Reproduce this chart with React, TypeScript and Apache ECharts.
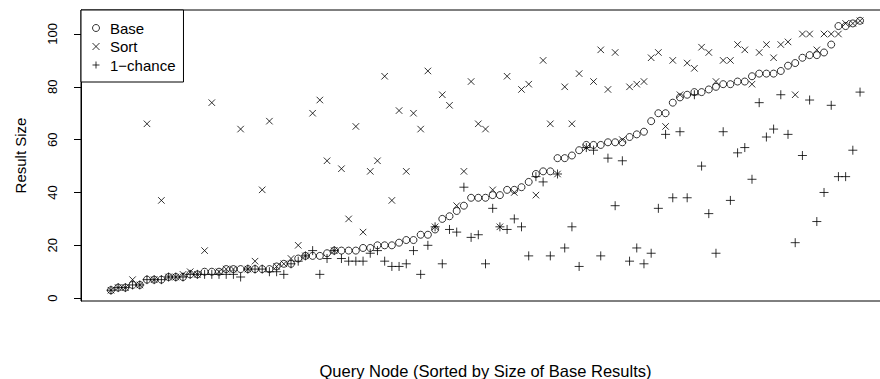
import React, { useEffect, useRef } from "react";
import * as echarts from "echarts";

const baseValues = [
  3, 4, 4, 5, 5, 7, 7, 7, 8, 8, 8, 9, 9, 10, 10, 10, 11, 11, 11, 11,
  11, 11, 11, 12, 13, 13, 15, 16, 16, 16, 17, 18, 18, 18, 18, 19, 19, 20, 20, 20,
  21, 22, 22, 24, 24, 26, 30, 31, 33, 35, 38, 38, 38, 39, 39, 41, 41, 42, 44, 47,
  48, 48, 53, 53, 54, 56, 58, 58, 58, 59, 59, 59, 61, 62, 63, 67, 70, 70, 74, 76,
  77, 78, 78, 79, 80, 81, 81, 82, 82, 84, 85, 85, 85, 86, 88, 89, 91, 92, 92, 93,
  96, 103, 103, 104, 105,
];

const sortValues = [
  3, 4, 4, 7, 5, 66, 7, 37, 8, 8, 9, 10, 9, 18, 74, 10, 11, 11, 64, 11,
  14, 41, 67, 12, 13, 15, 20, 16, 70, 75, 52, 18, 49, 30, 65, 25, 48, 52, 84, 37,
  71, 48, 70, 64, 86, 27, 77, 73, 35, 48, 82, 66, 64, 41, 27, 84, 40, 79, 81, 39,
  90, 66, 47, 80, 66, 85, 57, 82, 94, 79, 93, 60, 80, 81, 82, 91, 93, 65, 90, 77,
  89, 87, 95, 93, 82, 90, 90, 96, 94, 81, 93, 96, 91, 96, 97, 77, 100, 100, 94, 100,
  100, 100, 104, 104, 105,
];

const chanceValues = [
  3, 4, 4, 5, 5, 7, 7, 7, 8, 8, 8, 9, 9, 9, 9, 9, 9, 9, 8, 11,
  11, 11, 10, 10, 9, 13, 14, 16, 18, 9, 15, 18, 15, 14, 14, 14, 17, 18, 14, 12,
  12, 13, 18, 9, 20, 27, 13, 26, 25, 42, 23, 24, 13, 34, 27, 26, 30, 27, 16, 46,
  44, 16, 47, 19, 27, 12, 57, 56, 16, 53, 35, 52, 14, 19, 13, 17, 34, 62, 38, 63,
  38, 77, 50, 32, 17, 63, 37, 55, 57, 45, 74, 61, 64, 77, 62, 21, 54, 75, 29, 40,
  73, 46, 46, 56, 78,
];

const yTicks = [0, 20, 40, 60, 80, 100];
const seriesNames = ["Base", "Sort", "1\u2212chance"];

const FONT = "'Liberation Sans', Arial, Helvetica, sans-serif";
const CROSS = "path://M0,0L10,10M0,10L10,0";
const PLUS = "path://M5,0L5,10M0,5L10,5";

function toPoints(vals: number[]) {
  return vals.map((v, i) => [i + 1, v]);
}

export default function App() {
  const ref = useRef<HTMLDivElement>(null);
  useEffect(() => {
    document.body.style.margin = "0";
    if (!ref.current) return;
    const chart = echarts.init(ref.current, null, { renderer: "svg" });
    const n = baseValues.length;
    const xPad = 0.04 * (n - 1);
    const yMinData = Math.min(...baseValues, ...sortValues, ...chanceValues);
    const yMaxData = Math.max(...baseValues, ...sortValues, ...chanceValues);
    const yPad = 0.04 * (yMaxData - yMinData);
    const itemStyle = {
      color: "rgba(0,0,0,0)",
      borderColor: "#000",
      borderWidth: 1,
    };
    chart.setOption({
      animation: false,
      backgroundColor: "#fff",
      textStyle: { fontFamily: FONT, color: "#000" },
      grid: {
        left: 81,
        top: 10,
        right: -10,
        bottom: 78,
        outerBoundsMode: "none",
        containLabel: false,
        show: true,
        borderColor: "#000",
        borderWidth: 1,
        backgroundColor: "transparent",
      },
      legend: {
        orient: "vertical",
        left: 81,
        top: 10,
        padding: [10, 8, 9, 11],
        itemGap: 2.5,
        itemWidth: 18,
        itemHeight: 7,
        borderColor: "#000",
        borderWidth: 1,
        borderRadius: 0,
        backgroundColor: "#fff",
        selectedMode: false,
        textStyle: {
          fontFamily: FONT,
          fontSize: 15,
          color: "#000",
          lineHeight: 16,
          padding: [0, 0, 0, 0],
        },
        data: [
          { name: seriesNames[0], icon: "circle", itemStyle },
          { name: seriesNames[1], icon: CROSS, itemStyle },
          { name: seriesNames[2], icon: PLUS, itemStyle },
        ],
      },
      xAxis: {
        type: "value",
        min: 1 - xPad,
        max: n + xPad,
        name: "Query Node (Sorted by Size of Base Results)",
        nameLocation: "middle",
        nameGap: 61,
        nameTextStyle: { fontFamily: FONT, fontSize: 16.5, color: "#000" },
        axisLine: { show: false, onZero: false },
        axisTick: { show: false },
        axisLabel: { show: false },
        splitLine: { show: false },
      },
      yAxis: {
        type: "value",
        min: yMinData - yPad,
        max: yMaxData + yPad,
        name: "Result Size",
        nameLocation: "middle",
        nameRotate: 90,
        nameGap: 53,
        nameTextStyle: { fontFamily: FONT, fontSize: 15, color: "#000" },
        axisLine: { show: true, onZero: false, lineStyle: { color: "#000", width: 1 } },
        axisTick: {
          show: true,
          length: 7,
          inside: false,
          customValues: yTicks,
          lineStyle: { color: "#000", width: 1 },
        },
        axisLabel: {
          show: true,
          rotate: 90,
          margin: 22,
          fontSize: 13,
          fontFamily: FONT,
          color: "#000",
          customValues: yTicks,
        },
        splitLine: { show: false },
      },
      series: [
        {
          name: seriesNames[0],
          type: "scatter",
          symbol: "circle",
          symbolSize: 7,
          silent: true,
          itemStyle,
          data: toPoints(baseValues),
        },
        {
          name: seriesNames[1],
          type: "scatter",
          symbol: CROSS,
          symbolSize: 6.5,
          silent: true,
          itemStyle,
          data: toPoints(sortValues),
        },
        {
          name: seriesNames[2],
          type: "scatter",
          symbol: PLUS,
          symbolSize: 9,
          silent: true,
          itemStyle,
          data: toPoints(chanceValues),
        },
      ],
    });
    return () => chart.dispose();
  }, []);
  return <div ref={ref} style={{ width: 880, height: 379 }} />;
}
